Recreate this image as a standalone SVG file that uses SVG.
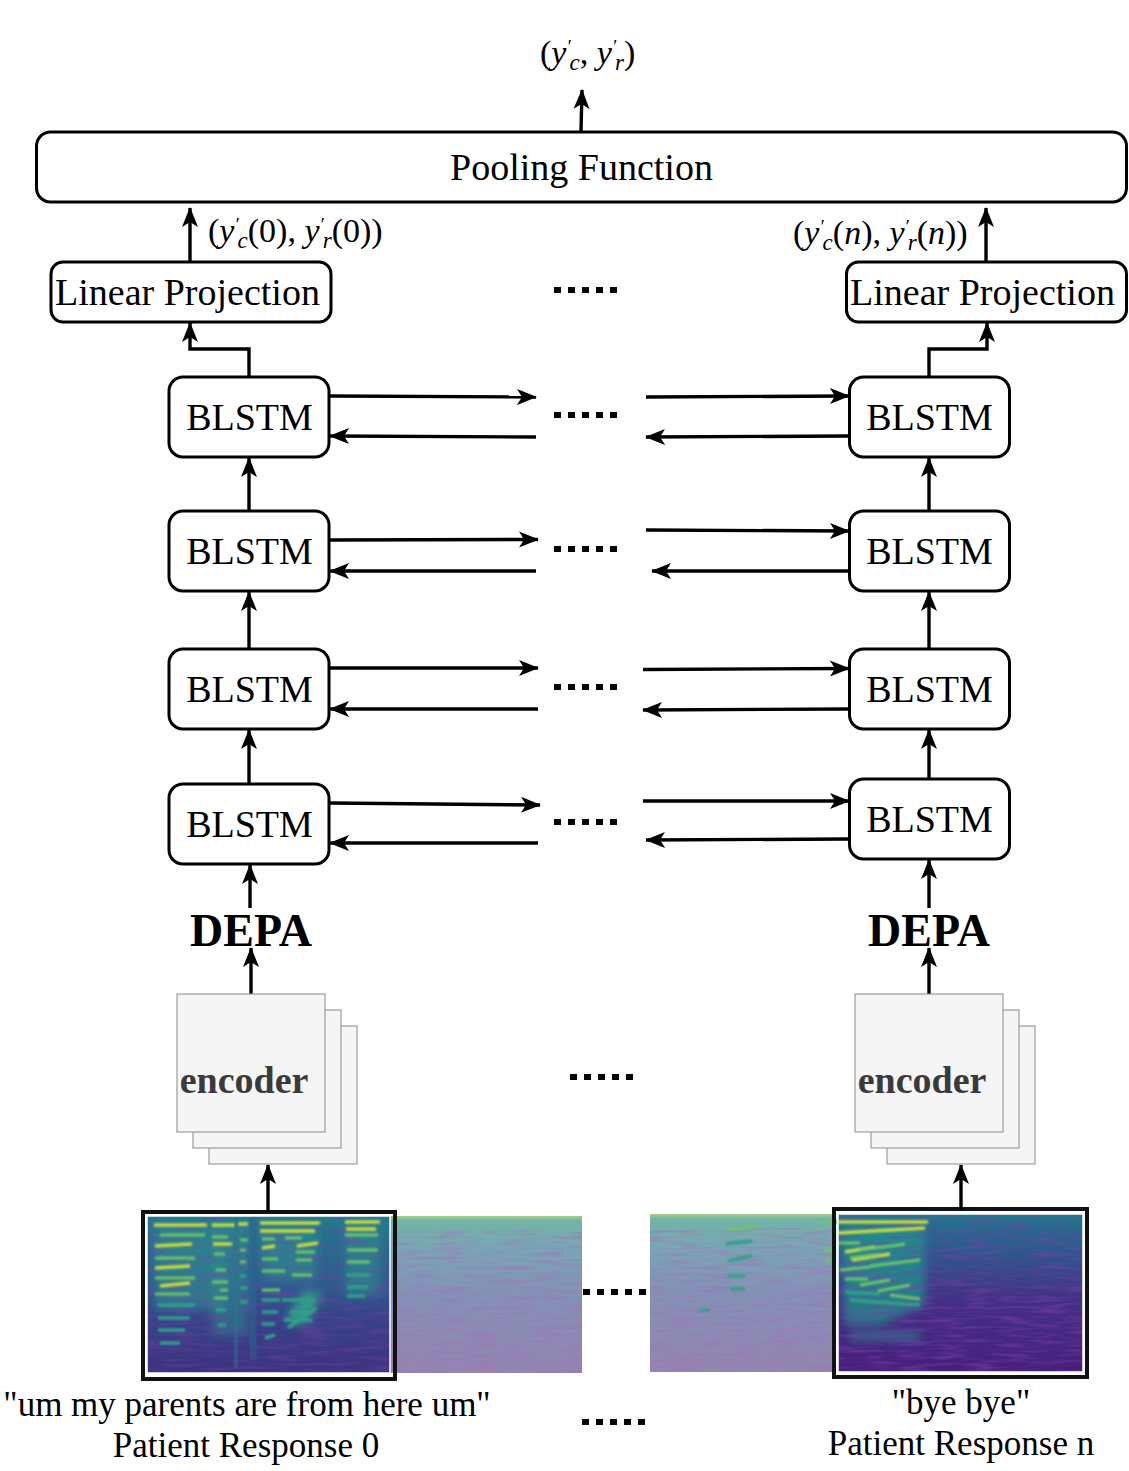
<svg xmlns="http://www.w3.org/2000/svg" width="1129" height="1471" viewBox="0 0 1129 1471">
<style>
text{font-family:"Liberation Serif","Times New Roman",serif;fill:#000}
.t{font-size:38px;text-anchor:middle}
.m{font-size:34px}
.b{font-size:46px;font-weight:bold;text-anchor:middle}
.e{font-size:38px;font-weight:bold;fill:#3a3a3a;text-anchor:middle}
.c{font-size:35px;text-anchor:middle}
.i{font-style:italic}
.p{font-size:19px;font-style:italic}
.s{font-size:23px;font-style:italic}
.box{fill:#fff;stroke:#000;stroke-width:3}
.enc{fill:#f5f5f5;stroke:#8a8a8a;stroke-width:1}
.cn{fill:none;stroke:#000;stroke-width:3.4}
.dots{fill:none;stroke:#000;stroke-width:6;stroke-dasharray:7 7}
.fr{fill:none;stroke:#111;stroke-width:4}
.h1{stroke:#c8dc3c;stroke-width:3.5;fill:none}
.h2{stroke:#6cc864;stroke-width:3;fill:none}
.h3{stroke:#2fa088;stroke-width:3.500;fill:none}
</style>
<defs>
<marker id="a" viewBox="0 0 20 18" refX="19" refY="9" markerWidth="20" markerHeight="18" markerUnits="userSpaceOnUse" orient="auto"><path d="M0 1L20 9L0 17L5 9Z" fill="#000"/></marker>
<linearGradient id="sl" x1="0" y1="0" x2="0" y2="1"><stop offset="0" stop-color="#1f7f8c"/><stop offset=".12" stop-color="#25708e"/><stop offset=".45" stop-color="#2e5a8d"/><stop offset=".62" stop-color="#36458a"/><stop offset="1" stop-color="#3d327f"/></linearGradient>
<linearGradient id="sr" x1="0" y1="0" x2="0" y2="1"><stop offset="0" stop-color="#1f7a8c"/><stop offset=".1" stop-color="#27688e"/><stop offset=".3" stop-color="#33508c"/><stop offset=".55" stop-color="#443085"/><stop offset="1" stop-color="#46207a"/></linearGradient>
<linearGradient id="fd" x1="0" y1="0" x2="0" y2="1"><stop offset="0" stop-color="#a6cf8a"/><stop offset=".03" stop-color="#72b4a6"/><stop offset=".2" stop-color="#78a6b4"/><stop offset=".5" stop-color="#8392b6"/><stop offset="1" stop-color="#9385b0"/></linearGradient>
<filter id="bl" x="-5%" y="-5%" width="110%" height="110%"><feGaussianBlur stdDeviation="1.1"/></filter>
<filter id="bl2" x="-10%" y="-10%" width="120%" height="120%"><feGaussianBlur stdDeviation="5"/></filter>
<filter id="nz" x="0" y="0" width="100%" height="100%"><feTurbulence type="fractalNoise" baseFrequency=".03 .3" numOctaves="2" seed="4"/><feColorMatrix values="0 0 0 0 .36  0 0 0 0 .16  0 0 0 0 .5  2.6 0 0 0 -1.15"/><feComposite in2="SourceGraphic" operator="in"/></filter>
<filter id="nd" x="0" y="0" width="100%" height="100%"><feTurbulence type="fractalNoise" baseFrequency=".03 .3" numOctaves="2" seed="9"/><feColorMatrix values="0 0 0 0 .2  0 0 0 0 .05  0 0 0 0 .4  2.6 0 0 0 -1.15"/><feComposite in2="SourceGraphic" operator="in"/></filter>
</defs>

<g id="spectrogram-left">
<rect x="390" y="1216" width="192" height="157" fill="url(#fd)"/>
<rect x="390" y="1230" width="192" height="143" fill="#000" filter="url(#nz)" opacity=".55"/>
<rect x="147" y="1216" width="243" height="157" fill="url(#sl)"/>
<g filter="url(#bl2)">
<rect x="155" y="1225" width="70" height="85" fill="#2b8f8c" opacity=".6"/>
<rect x="212" y="1225" width="36" height="110" fill="#2b8f8c" opacity=".5"/>
<rect x="262" y="1225" width="55" height="55" fill="#2b8f8c" opacity=".6"/>
<rect x="345" y="1225" width="35" height="70" fill="#2b8f8c" opacity=".6"/>
<path d="M285 1320L305 1290L322 1295L305 1325Z" fill="#30a088"/>
</g>
<rect x="147" y="1216" width="243" height="157" fill="#000" filter="url(#nd)" opacity=".45"/>
<g filter="url(#bl)">
<path class="h1" d="M154 1225H207M212 1225H235M238 1224H248M260 1223H320M345 1222H380M260 1231H315M346 1229H376M155 1246L192 1244M213 1244H232M262 1248L275 1246M297 1246L318 1243M155 1268L190 1266M160 1286L190 1283"/>
<path class="h2" d="M160 1235H205M212 1237H228M262 1239H275M285 1238H302M155 1258H195M214 1254H225M262 1259H278M296 1252H315M155 1278H195M212 1282H228M262 1271H285M296 1260H312M155 1294H190M214 1298H228M262 1290H280M292 1275H312M345 1235H378M347 1250H378M347 1262H370M216 1270H226M240 1240H248M240 1250H246M240 1262H246M220 1290H228"/>
<path class="h3" d="M158 1305H195M158 1318H190M158 1330H185M160 1343H180M216 1310H226M218 1325H226M262 1300H280M262 1312H278M262 1324H275M346 1275H370M347 1287H368M347 1296H365M240 1276H246M240 1288H248M240 1302H248M265 1338L275 1335M290 1312H310M284 1320H312M282 1300H315M288 1328L316 1308"/>
</g>
<path d="M236 1216V1368" stroke="#28788c" stroke-width="4" opacity=".45"/>
<path d="M253 1216V1360" stroke="#27688e" stroke-width="7" opacity=".5"/>
<rect x="147" y="1216" width="243" height="157" fill="none" stroke="#fff" stroke-width="1.5"/>
<rect x="143" y="1212" width="252" height="167" class="fr"/>
</g>

<g id="spectrogram-right">
<rect x="650" y="1214" width="183" height="158" fill="url(#fd)"/>
<rect x="650" y="1228" width="183" height="144" fill="#000" filter="url(#nz)" opacity=".55"/>
<g filter="url(#bl)">
<path class="h2" d="M728 1230L758 1226"/>
<path class="h3" d="M726 1244L752 1241M728 1261L752 1256M728 1276H745M730 1289H745M700 1310H710"/>
<path class="h2" d="M822 1222H838M825 1250H832M825 1260H832"/>
</g>
<rect x="838" y="1214" width="245" height="158" fill="url(#sr)"/>
<g filter="url(#bl2)">
<path d="M840 1225H925V1305L880 1325H845Z" fill="#1f9a8a" opacity=".7"/>
<rect x="850" y="1333" width="70" height="6" fill="#2a8890"/>
</g>
<rect x="838" y="1214" width="245" height="158" fill="#000" filter="url(#nd)" opacity=".6"/>
<g filter="url(#bl)">
<path class="h1" d="M838 1222H928M845 1252L875 1247M852 1260L890 1254M838 1233L925 1228"/>
<path class="h2" d="M838 1243H860M860 1250L905 1244M870 1266L920 1260M840 1270L870 1267M845 1279H868M860 1285L890 1280M878 1291L910 1285M890 1295L920 1299M850 1258L880 1254"/>
<path class="h3" d="M850 1300L920 1305M845 1292L880 1294"/>
</g>
<path d="M838 1214H1083V1372H838Z" fill="none" stroke="#fff" stroke-width="1.5"/>
<rect x="834" y="1209" width="253" height="168" class="fr"/>
</g>

<g id="connectors">
<path class="cn" d="M581 131L582 90" marker-end="url(#a)"/>
<path class="cn" d="M190 262V208" marker-end="url(#a)"/>
<path class="cn" d="M986 262V208" marker-end="url(#a)"/>
<path class="cn" d="M249 377V349H190V323" marker-end="url(#a)"/>
<path class="cn" d="M929 377V349H987V323" marker-end="url(#a)"/>
<path class="cn" d="M249 511V458" marker-end="url(#a)"/>
<path class="cn" d="M249 649V592" marker-end="url(#a)"/>
<path class="cn" d="M249 784V730" marker-end="url(#a)"/>
<path class="cn" d="M250 908V865" marker-end="url(#a)"/>
<path class="cn" d="M251 994V948" marker-end="url(#a)"/>
<path class="cn" d="M268 1212V1165" marker-end="url(#a)"/>
<path class="cn" d="M929 511V458" marker-end="url(#a)"/>
<path class="cn" d="M929 649V592" marker-end="url(#a)"/>
<path class="cn" d="M929 779V730" marker-end="url(#a)"/>
<path class="cn" d="M929 908V860" marker-end="url(#a)"/>
<path class="cn" d="M929 994V948" marker-end="url(#a)"/>
<path class="cn" d="M961 1209V1165" marker-end="url(#a)"/>
<path class="cn" d="M330 396L536 397" marker-end="url(#a)"/>
<path class="cn" d="M536 437L330 436" marker-end="url(#a)"/>
<path class="cn" d="M646 397L849 396" marker-end="url(#a)"/>
<path class="cn" d="M849 436L646 437" marker-end="url(#a)"/>
<path class="cn" d="M330 540L538 539.500" marker-end="url(#a)"/>
<path class="cn" d="M536 571H330" marker-end="url(#a)"/>
<path class="cn" d="M646 530L849 531" marker-end="url(#a)"/>
<path class="cn" d="M849 571H652" marker-end="url(#a)"/>
<path class="cn" d="M330 668H538" marker-end="url(#a)"/>
<path class="cn" d="M538 709H330" marker-end="url(#a)"/>
<path class="cn" d="M643 669.500L849 668.500" marker-end="url(#a)"/>
<path class="cn" d="M849 709L643 710" marker-end="url(#a)"/>
<path class="cn" d="M330 803L540 805" marker-end="url(#a)"/>
<path class="cn" d="M538 843H330" marker-end="url(#a)"/>
<path class="cn" d="M643 801H849" marker-end="url(#a)"/>
<path class="cn" d="M849 839L646 840" marker-end="url(#a)"/>
</g>

<g id="pooling"><rect class="box" x="36.500" y="132" width="1090" height="70" rx="14"/><text class="t" x="581.500" y="180">Pooling Function</text></g>
<g id="linear-left"><rect class="box" x="51" y="262" width="280" height="60" rx="12"/><text class="t" x="187.500" y="305">Linear Projection</text></g>
<g id="linear-right"><rect class="box" x="846.500" y="262" width="280" height="60" rx="12"/><text class="t" x="982.500" y="305">Linear Projection</text></g>

<g id="blstm-l4"><rect class="box" x="169" y="377" width="160" height="80" rx="14"/><text class="t" x="249.500" y="430">BLSTM</text></g>
<g id="blstm-l3"><rect class="box" x="169" y="511" width="160" height="80" rx="14"/><text class="t" x="249.500" y="564">BLSTM</text></g>
<g id="blstm-l2"><rect class="box" x="169" y="649" width="160" height="80" rx="14"/><text class="t" x="249.500" y="702">BLSTM</text></g>
<g id="blstm-l1"><rect class="box" x="169" y="784" width="160" height="80" rx="14"/><text class="t" x="249.500" y="837">BLSTM</text></g>
<g id="blstm-r4"><rect class="box" x="849.500" y="377" width="160" height="80" rx="14"/><text class="t" x="929.500" y="430">BLSTM</text></g>
<g id="blstm-r3"><rect class="box" x="849.500" y="511" width="160" height="80" rx="14"/><text class="t" x="929.500" y="564">BLSTM</text></g>
<g id="blstm-r2"><rect class="box" x="849.500" y="649" width="160" height="80" rx="14"/><text class="t" x="929.500" y="702">BLSTM</text></g>
<g id="blstm-r1"><rect class="box" x="849.500" y="779" width="160" height="80" rx="14"/><text class="t" x="929.500" y="832">BLSTM</text></g>

<g id="depa-left"><text class="b" x="251" y="946">DEPA</text></g>
<g id="depa-right"><text class="b" x="929" y="946">DEPA</text></g>

<g id="encoder-left"><rect class="enc" x="209" y="1026" width="148" height="138"/><rect class="enc" x="193" y="1010" width="148" height="138"/><rect class="enc" x="177" y="994" width="148" height="138"/><text class="e" x="244" y="1093">encoder</text></g>
<g id="encoder-right"><rect class="enc" x="887" y="1026" width="148" height="138"/><rect class="enc" x="871" y="1010" width="148" height="138"/><rect class="enc" x="855" y="994" width="148" height="138"/><text class="e" x="922" y="1093">encoder</text></g>

<g id="labels">
<text class="m" x="540" y="64">(<tspan class="i">y</tspan><tspan class="p" dy="-11">′</tspan><tspan class="s" dx="-1" dy="17">c</tspan><tspan dy="-6">, </tspan><tspan class="i">y</tspan><tspan class="p" dy="-11">′</tspan><tspan class="s" dx="-1" dy="17">r</tspan><tspan dy="-6">)</tspan></text>
<text class="m" x="208" y="242">(<tspan class="i">y</tspan><tspan class="p" dy="-11">′</tspan><tspan class="s" dx="-1" dy="17">c</tspan><tspan dy="-6">(0), </tspan><tspan class="i">y</tspan><tspan class="p" dy="-11">′</tspan><tspan class="s" dx="-1" dy="17">r</tspan><tspan dy="-6">(0))</tspan></text>
<text class="m" x="793" y="244">(<tspan class="i">y</tspan><tspan class="p" dy="-11">′</tspan><tspan class="s" dx="-1" dy="17">c</tspan><tspan dy="-6">(</tspan><tspan class="i">n</tspan>), <tspan class="i">y</tspan><tspan class="p" dy="-11">′</tspan><tspan class="s" dx="-1" dy="17">r</tspan><tspan dy="-6">(</tspan><tspan class="i">n</tspan>))</text>
<text class="c" x="247" y="1416">"um my parents are from here um"</text>
<text class="c" x="246" y="1457">Patient Response 0</text>
<text class="c" x="961" y="1414">"bye bye"</text>
<text class="c" x="961" y="1455">Patient Response n</text>
</g>

<g id="ellipses">
<path class="dots" d="M554 290H617"/>
<path class="dots" d="M554 415H617"/>
<path class="dots" d="M554 549H617"/>
<path class="dots" d="M554 687H617"/>
<path class="dots" d="M554 822H617"/>
<path class="dots" d="M570 1077H633"/>
<path class="dots" d="M583 1292H646"/>
<path class="dots" d="M582 1422H645"/>
</g>
</svg>
